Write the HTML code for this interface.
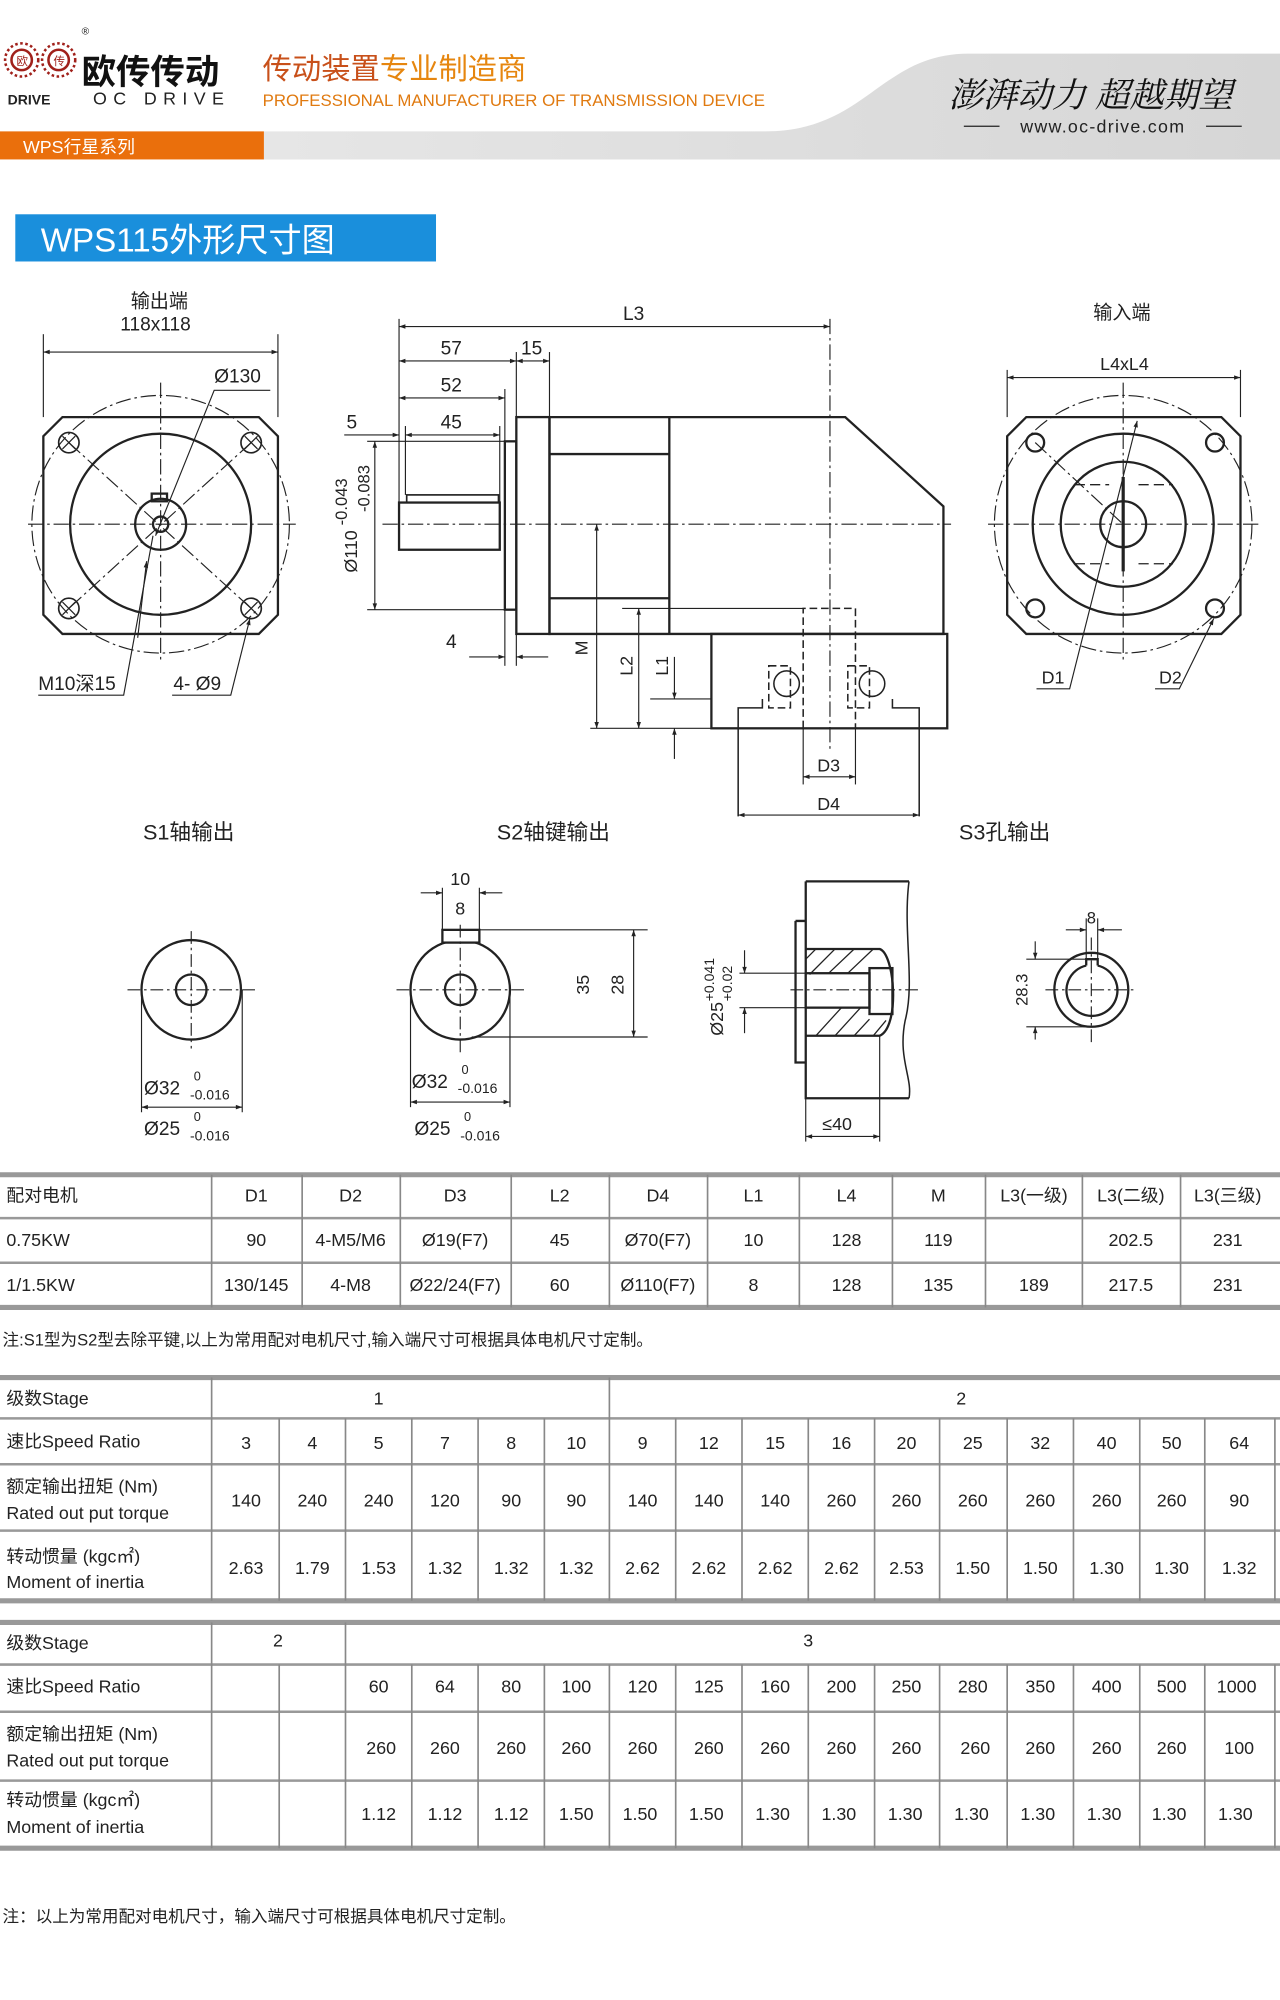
<!DOCTYPE html>
<html><head><meta charset="utf-8"><style>
html,body{margin:0;padding:0;background:#fff;}
svg{display:block;}
text{font-family:"Liberation Sans","Noto Sans CJK SC",sans-serif;fill:#222;}
.n{font-family:"Liberation Sans Narrow","Liberation Sans","Noto Sans CJK SC",sans-serif;}
</style></head><body>
<svg width="1280" height="2000" viewBox="0 0 1004 1568" preserveAspectRatio="none" xmlns="http://www.w3.org/2000/svg">
<defs>
<marker id="a" viewBox="0 0 10 10" refX="10" refY="5" markerWidth="7" markerHeight="5" orient="auto-start-reverse" markerUnits="userSpaceOnUse"><path d="M0,1.5 L10,5 L0,8.5z" fill="#222"/></marker>
<linearGradient id="g" x1="0" y1="0" x2="1" y2="0"><stop offset="0" stop-color="#e6e6e6"/><stop offset="1" stop-color="#d6d6d6"/></linearGradient>
</defs>
<!-- header -->
<path d="M207,103 L600,103 C680,103 690,42 760,42 L1004,42 L1004,125 L207,125z" fill="url(#g)"/>
<rect x="0" y="103" width="207" height="22" fill="#ea6f0c"/>
<text x="18" y="120" font-size="14" fill="#fff" style="fill:#fff">WPS行星系列</text>
<g fill="none" stroke="#a0201a" stroke-width="2">
<circle cx="17" cy="47" r="13" stroke-dasharray="2 2"/><circle cx="17" cy="47" r="8"/>
<circle cx="46" cy="47" r="13" stroke-dasharray="2 2"/><circle cx="46" cy="47" r="8"/>
</g>
<text x="13" y="51" font-size="9" fill="#a0201a" style="fill:#a0201a">欧</text>
<text x="42" y="51" font-size="9" fill="#a0201a" style="fill:#a0201a">传</text>
<text x="64" y="27" font-size="8">®</text>
<text x="64" y="66" font-size="27" font-weight="bold" style="fill:#111">欧传传动</text>
<text x="6" y="82" font-size="11" font-weight="bold">DRIVE</text>
<text x="73" y="82" font-size="14" letter-spacing="5">OC DRIVE</text>
<text x="206" y="62" font-size="23" style="fill:#c8501a">传动装置<tspan style="fill:#e6860f">专业制造商</tspan></text>
<text x="206" y="83" font-size="13" textLength="394" lengthAdjust="spacingAndGlyphs" style="fill:#e07a10">PROFESSIONAL MANUFACTURER OF TRANSMISSION DEVICE</text>
<text x="744" y="84" font-size="27" font-style="italic" style="fill:#111;font-family:'Noto Serif CJK SC',serif">澎湃动力 超越期望</text>
<line x1="756" y1="99" x2="784" y2="99" stroke="#222"/><line x1="946" y1="99" x2="974" y2="99" stroke="#222"/>
<text x="865" y="104" font-size="14" text-anchor="middle" letter-spacing="1">www.oc-drive.com</text>
<!-- title -->
<rect x="12" y="168" width="330" height="37" fill="#1a8fdc"/>
<text x="32" y="197" font-size="26" style="fill:#fff">WPS115外形尺寸图</text>

<g fill="none" stroke="#222" stroke-width="1.8">
<!-- left flange view -->
<path d="M49,327 L203,327 L218,342 L218,482 L203,497 L49,497 L34,482 L34,342z"/>
<circle cx="126" cy="411" r="71"/>
<circle cx="126" cy="411" r="20"/>
<circle cx="126" cy="411" r="6"/>
<rect x="119" y="387" width="12" height="6"/>
<g stroke-width="1.3"><circle cx="54" cy="347" r="8"/><circle cx="197" cy="347" r="8"/><circle cx="54" cy="477" r="8"/><circle cx="197" cy="477" r="8"/></g>
<g stroke-width="1"><path d="M49,342 l10,10 m-10,0 l10,-10 M192,342 l10,10 m-10,0 l10,-10 M49,472 l10,10 m-10,0 l10,-10 M192,472 l10,10 m-10,0 l10,-10"/></g>
</g>
<g fill="none" stroke="#222" stroke-width="0.9" stroke-dasharray="12 3 2 3">
<circle cx="126" cy="411" r="101"/>
<line x1="22" y1="411" x2="232" y2="411"/><line x1="126" y1="300" x2="126" y2="520"/>
<line x1="54" y1="347" x2="197" y2="477"/><line x1="197" y1="347" x2="54" y2="477"/>
</g>
<g stroke="#222" stroke-width="0.9" fill="none">
<line x1="34" y1="262" x2="34" y2="327"/><line x1="218" y1="262" x2="218" y2="327"/>
<line x1="34" y1="276" x2="218" y2="276" marker-start="url(#a)" marker-end="url(#a)"/>
<polyline points="212,306 168,306 122,420" marker-end="url(#a)"/>
<polyline points="30,545 97,545 120,420"/><line x1="115" y1="440" x2="108" y2="500" marker-start="url(#a)"/>
<polyline points="135,545 181,545 196,485" marker-end="url(#a)"/>
</g>
<text x="125" y="241" font-size="15" text-anchor="middle">输出端</text>
<text x="122" y="259" font-size="15" text-anchor="middle">118x118</text>
<text x="168" y="300" font-size="15">Ø130</text>
<text x="30" y="541" font-size="15">M10深15</text>
<text x="136" y="541" font-size="15">4- Ø9</text>

<!-- center side view -->
<g fill="none" stroke="#222" stroke-width="1.8">
<rect x="313" y="394" width="79" height="37"/>
<rect x="319" y="388" width="72" height="6" stroke-width="1.3"/>
<rect x="396" y="346" width="9" height="132"/>
<rect x="405" y="327" width="26" height="170"/>
<path d="M431,327 L663,327 L740,397 L740,497 L431,497z"/>
<line x1="431" y1="356" x2="525" y2="356"/><line x1="431" y1="469" x2="525" y2="469"/>
<line x1="525" y1="327" x2="525" y2="497"/>
<rect x="558" y="497" width="185" height="74"/>
</g>
<g fill="none" stroke="#222" stroke-width="1.2" stroke-dasharray="6 3">
<path d="M630,571 L630,477 L671,477 L671,571"/>
<path d="M603,522 L620,522 L620,555 L603,555z M665,522 L682,522 L682,555 L665,555z"/>
</g>
<g fill="none" stroke="#222" stroke-width="1.2">
<circle cx="617" cy="536" r="10"/><circle cx="684" cy="536" r="10"/>
<path d="M579,640 L579,555 L598,555 L598,548 M721,640 L721,555 L700,555 L700,548"/>
</g>
<g fill="none" stroke="#222" stroke-width="0.9" stroke-dasharray="12 3 2 3">
<line x1="300" y1="411" x2="746" y2="411"/><line x1="651" y1="250" x2="651" y2="590"/>
</g>
<g stroke="#222" stroke-width="0.9" fill="none">
<line x1="313" y1="250" x2="313" y2="394"/>
<line x1="313" y1="256" x2="651" y2="256" marker-start="url(#a)" marker-end="url(#a)"/>
<line x1="405" y1="276" x2="405" y2="327"/><line x1="431" y1="276" x2="431" y2="327"/>
<line x1="396" y1="305" x2="396" y2="346"/><line x1="318" y1="334" x2="318" y2="388"/>
<line x1="392" y1="334" x2="392" y2="394"/>
<line x1="313" y1="283" x2="405" y2="283" marker-start="url(#a)" marker-end="url(#a)"/>
<line x1="405" y1="283" x2="431" y2="283" marker-start="url(#a)" marker-end="url(#a)"/>
<line x1="313" y1="312" x2="396" y2="312" marker-start="url(#a)" marker-end="url(#a)"/>
<line x1="318" y1="341" x2="392" y2="341" marker-start="url(#a)" marker-end="url(#a)"/>
<line x1="270" y1="341" x2="313" y2="341" marker-end="url(#a)"/>
<line x1="288" y1="346" x2="396" y2="346"/><line x1="288" y1="478" x2="396" y2="478"/>
<line x1="294" y1="346" x2="294" y2="478" marker-start="url(#a)" marker-end="url(#a)"/>
<line x1="396" y1="478" x2="396" y2="522"/><line x1="405" y1="497" x2="405" y2="522"/>
<line x1="368" y1="515" x2="396" y2="515" marker-end="url(#a)"/><line x1="430" y1="515" x2="405" y2="515" marker-end="url(#a)"/>
<line x1="468" y1="411" x2="468" y2="571" marker-start="url(#a)" marker-end="url(#a)"/>
<line x1="488" y1="477" x2="630" y2="477"/>
<line x1="501" y1="477" x2="501" y2="571" marker-start="url(#a)" marker-end="url(#a)"/>
<line x1="463" y1="571" x2="558" y2="571"/><line x1="510" y1="548" x2="558" y2="548"/>
<line x1="529" y1="515" x2="529" y2="548" marker-end="url(#a)"/><line x1="529" y1="595" x2="529" y2="571" marker-end="url(#a)"/>
<line x1="630" y1="571" x2="630" y2="615"/><line x1="671" y1="571" x2="671" y2="615"/>
<line x1="630" y1="609" x2="671" y2="609" marker-start="url(#a)" marker-end="url(#a)"/>
<line x1="579" y1="639" x2="721" y2="639" marker-start="url(#a)" marker-end="url(#a)"/>
</g>
<text x="497" y="251" font-size="15" text-anchor="middle">L3</text>
<text x="354" y="278" font-size="15" text-anchor="middle">57</text>
<text x="417" y="278" font-size="15" text-anchor="middle">15</text>
<text x="354" y="307" font-size="15" text-anchor="middle">52</text>
<text x="354" y="336" font-size="15" text-anchor="middle">45</text>
<text x="276" y="336" font-size="15" text-anchor="middle">5</text>
<text x="354" y="508" font-size="15" text-anchor="middle">4</text>
<text transform="translate(280,412) rotate(-90)" font-size="14" text-anchor="middle">Ø110 <tspan font-size="13" dy="-8">-0.043</tspan></text>
<text transform="translate(290,383) rotate(-90)" font-size="13" text-anchor="middle">-0.083</text>
<text transform="translate(461,508) rotate(-90)" font-size="14" text-anchor="middle">M</text>
<text transform="translate(496,522) rotate(-90)" font-size="14" text-anchor="middle">L2</text>
<text transform="translate(524,522) rotate(-90)" font-size="14" text-anchor="middle">L1</text>
<text x="650" y="605" font-size="14" text-anchor="middle">D3</text>
<text x="650" y="635" font-size="14" text-anchor="middle">D4</text>

<!-- right view -->
<g fill="none" stroke="#222" stroke-width="1.8">
<path d="M805,327 L958,327 L973,342 L973,482 L958,497 L805,497 L790,482 L790,342z"/>
<circle cx="881" cy="411" r="71"/>
<circle cx="881" cy="411" r="49"/>
<circle cx="881" cy="411" r="18"/>
<circle cx="812" cy="347" r="7"/><circle cx="953" cy="347" r="7"/><circle cx="812" cy="477" r="7"/><circle cx="953" cy="477" r="7"/>
</g>
<g fill="none" stroke="#222" stroke-width="1" stroke-dasharray="8 4">
<path d="M843,380 L870,380 M893,380 L920,380 M843,442 L870,442 M893,442 L920,442"/>
</g>
<line x1="881" y1="374" x2="881" y2="448" stroke="#222" stroke-width="2.5"/>
<g fill="none" stroke="#222" stroke-width="0.9" stroke-dasharray="12 3 2 3">
<circle cx="881" cy="411" r="101"/>
<line x1="775" y1="411" x2="990" y2="411"/><line x1="881" y1="300" x2="881" y2="520"/>
<line x1="812" y1="347" x2="881" y2="411"/>
</g>
<g stroke="#222" stroke-width="0.9" fill="none">
<line x1="790" y1="290" x2="790" y2="327"/><line x1="973" y1="290" x2="973" y2="327"/>
<line x1="790" y1="296" x2="973" y2="296" marker-start="url(#a)" marker-end="url(#a)"/>
<polyline points="813,540 839,540 892,330" marker-end="url(#a)"/>
<polyline points="906,540 925,540 952,485" marker-end="url(#a)"/>
</g>
<text x="880" y="250" font-size="15" text-anchor="middle">输入端</text>
<text x="882" y="290" font-size="14" text-anchor="middle">L4xL4</text>
<text x="826" y="536" font-size="14" text-anchor="middle">D1</text>
<text x="918" y="536" font-size="14" text-anchor="middle">D2</text>

<text x="148" y="658" font-size="17" text-anchor="middle">S1轴输出</text>
<text x="434" y="658" font-size="17" text-anchor="middle">S2轴键输出</text>
<text x="788" y="658" font-size="17" text-anchor="middle">S3孔输出</text>

<!-- small drawings -->
<g fill="none" stroke="#222" stroke-width="1.8">
<circle cx="150" cy="776" r="39"/><circle cx="150" cy="776" r="12"/>
<circle cx="361" cy="776" r="39"/><circle cx="361" cy="776" r="12"/>
<rect x="347" y="729" width="29" height="10" fill="#fff"/>
<path d="M632,691 L713,691 M632,691 L632,861 L713,861 M624,722 L632,722 M624,722 L624,833 L632,833"/>
<path d="M713,691 C708,730 718,770 710,800 C704,830 716,845 713,861" stroke-width="1.2"/>
<path d="M632,744 L690,744 C702,748 706,805 690,812 L632,812"/>
<rect x="632" y="763" width="50" height="27" fill="#fff"/>
<rect x="682" y="759" width="18" height="36"/>
<circle cx="856" cy="776" r="29"/>
<path d="M852,757 L852,752 L861,752 L861,757"/>
<path d="M852,757 A20,20 0 1,0 861,757"/>
</g>
<g stroke="#222" stroke-width="1">
<path d="M640,744 l-8,8 M655,744 l-20,20 M670,744 l-20,19 M685,744 l-20,19 M640,812 l20,-22 M655,812 l20,-22 M670,812 l12,-13 M685,812 l10,-12"/>
</g>
<g fill="none" stroke="#222" stroke-width="0.9" stroke-dasharray="10 3 2 3">
<line x1="100" y1="776" x2="200" y2="776"/><line x1="150" y1="730" x2="150" y2="822"/>
<line x1="311" y1="776" x2="411" y2="776"/><line x1="361" y1="725" x2="361" y2="826"/>
<line x1="620" y1="776" x2="720" y2="776"/>
<line x1="820" y1="776" x2="892" y2="776"/><line x1="856" y1="735" x2="856" y2="820"/>
</g>
<g stroke="#222" stroke-width="0.9" fill="none">
<line x1="111" y1="776" x2="111" y2="872"/><line x1="190" y1="776" x2="190" y2="872"/>
<line x1="111" y1="868" x2="190" y2="868" marker-start="url(#a)" marker-end="url(#a)"/>
<line x1="322" y1="776" x2="322" y2="868"/><line x1="400" y1="776" x2="400" y2="868"/>
<line x1="322" y1="864" x2="400" y2="864" marker-start="url(#a)" marker-end="url(#a)"/>
<line x1="347" y1="696" x2="347" y2="729"/><line x1="376" y1="696" x2="376" y2="729"/>
<line x1="330" y1="700" x2="347" y2="700" marker-end="url(#a)"/><line x1="394" y1="700" x2="376" y2="700" marker-end="url(#a)"/>
<line x1="376" y1="729" x2="508" y2="729"/><line x1="370" y1="813" x2="508" y2="813"/>
<line x1="497" y1="729" x2="497" y2="813" marker-start="url(#a)" marker-end="url(#a)"/>
<line x1="580" y1="763" x2="632" y2="763"/><line x1="580" y1="790" x2="632" y2="790"/>
<line x1="584" y1="745" x2="584" y2="763" marker-end="url(#a)"/><line x1="584" y1="810" x2="584" y2="790" marker-end="url(#a)"/>
<line x1="632" y1="861" x2="632" y2="895"/><line x1="690" y1="812" x2="690" y2="895"/>
<line x1="632" y1="891" x2="690" y2="891" marker-start="url(#a)" marker-end="url(#a)"/>
<line x1="852" y1="720" x2="852" y2="752"/><line x1="861" y1="720" x2="861" y2="752"/>
<line x1="836" y1="729" x2="852" y2="729" marker-end="url(#a)"/><line x1="880" y1="729" x2="861" y2="729" marker-end="url(#a)"/>
<line x1="805" y1="752" x2="852" y2="752"/><line x1="805" y1="805" x2="856" y2="805"/>
<line x1="812" y1="738" x2="812" y2="752" marker-end="url(#a)"/><line x1="812" y1="815" x2="812" y2="805" marker-end="url(#a)"/>
</g>
<text x="113" y="858" font-size="15">Ø32</text><text x="152" y="847" font-size="10">0</text><text x="149" y="862" font-size="11">-0.016</text>
<text x="113" y="890" font-size="15">Ø25</text><text x="152" y="879" font-size="10">0</text><text x="149" y="894" font-size="11">-0.016</text>
<text x="323" y="853" font-size="15">Ø32</text><text x="362" y="842" font-size="10">0</text><text x="359" y="857" font-size="11">-0.016</text>
<text x="325" y="890" font-size="15">Ø25</text><text x="364" y="879" font-size="10">0</text><text x="361" y="894" font-size="11">-0.016</text>
<text x="361" y="694" font-size="14" text-anchor="middle">10</text>
<text x="361" y="717" font-size="14" text-anchor="middle">8</text>
<text transform="translate(462,772) rotate(-90)" font-size="14" text-anchor="middle">35</text>
<text transform="translate(489,772) rotate(-90)" font-size="14" text-anchor="middle">28</text>
<text transform="translate(567,812) rotate(-90)" font-size="14">Ø25</text>
<text transform="translate(560,785) rotate(-90)" font-size="11">+0.041</text>
<text transform="translate(574,785) rotate(-90)" font-size="11">+0.02</text>
<text x="645" y="886" font-size="14">≤40</text>
<text x="856" y="724" font-size="13" text-anchor="middle">8</text>
<text transform="translate(806,776) rotate(-90)" font-size="13" text-anchor="middle">28.3</text>

<!-- table 1 -->
<g stroke="#999">
<line x1="0" y1="921" x2="1004" y2="921" stroke-width="4"/>
<line x1="0" y1="955" x2="1004" y2="955" stroke-width="2"/>
<line x1="0" y1="990" x2="1004" y2="990" stroke-width="2"/>
<line x1="0" y1="1025" x2="1004" y2="1025" stroke-width="4"/>
<g stroke-width="1.3" stroke="#888">
<path d="M166,921V1025M237,921V1025M314,921V1025M401,921V1025M478,921V1025M555,921V1025M627,921V1025M700,921V1025M773,921V1025M849,921V1025M926,921V1025"/>
</g>
</g>
<g class="n" font-size="14" text-anchor="middle">
<text x="5" y="942" text-anchor="start" class="n">配对电机</text>
<text x="201" y="942" class="n">D1</text><text x="275" y="942" class="n">D2</text><text x="357" y="942" class="n">D3</text><text x="439" y="942" class="n">L2</text><text x="516" y="942" class="n">D4</text><text x="591" y="942" class="n">L1</text><text x="664" y="942" class="n">L4</text><text x="736" y="942" class="n">M</text><text x="811" y="942" class="n">L3(一级)</text><text x="887" y="942" class="n">L3(二级)</text><text x="963" y="942" class="n">L3(三级)</text>
<text x="5" y="977" text-anchor="start" class="n">0.75KW</text>
<text x="201" y="977" class="n">90</text><text x="275" y="977" class="n">4-M5/M6</text><text x="357" y="977" class="n">Ø19(F7)</text><text x="439" y="977" class="n">45</text><text x="516" y="977" class="n">Ø70(F7)</text><text x="591" y="977" class="n">10</text><text x="664" y="977" class="n">128</text><text x="736" y="977" class="n">119</text><text x="887" y="977" class="n">202.5</text><text x="963" y="977" class="n">231</text>
<text x="5" y="1012" text-anchor="start" class="n">1/1.5KW</text>
<text x="201" y="1012" class="n">130/145</text><text x="275" y="1012" class="n">4-M8</text><text x="357" y="1012" class="n">Ø22/24(F7)</text><text x="439" y="1012" class="n">60</text><text x="516" y="1012" class="n">Ø110(F7)</text><text x="591" y="1012" class="n">8</text><text x="664" y="1012" class="n">128</text><text x="736" y="1012" class="n">135</text><text x="811" y="1012" class="n">189</text><text x="887" y="1012" class="n">217.5</text><text x="963" y="1012" class="n">231</text>
</g>
<text x="2" y="1055" font-size="13" class="n">注:S1型为S2型去除平键,以上为常用配对电机尺寸,输入端尺寸可根据具体电机尺寸定制。</text>

<!-- table 2 -->
<g stroke="#999">
<line x1="0" y1="1080" x2="1004" y2="1080" stroke-width="4"/>
<line x1="0" y1="1112" x2="1004" y2="1112" stroke-width="2"/>
<line x1="0" y1="1148" x2="1004" y2="1148" stroke-width="2"/>
<line x1="0" y1="1200" x2="1004" y2="1200" stroke-width="2"/>
<line x1="0" y1="1255" x2="1004" y2="1255" stroke-width="4"/>
<g stroke-width="1.3" stroke="#888">
<path d="M166,1080V1255M478,1080V1255M219,1112V1255M271,1112V1255M323,1112V1255M375,1112V1255M427,1112V1255M530,1112V1255M582,1112V1255M634,1112V1255M686,1112V1255M737,1112V1255M790,1112V1255M842,1112V1255M894,1112V1255M945,1112V1255M1000,1112V1255"/>
</g>
</g>
<g font-size="14" text-anchor="middle">
<text x="5" y="1101" text-anchor="start" class="n">级数Stage</text>
<text x="297" y="1101" class="n">1</text><text x="754" y="1101" class="n">2</text>
<text x="5" y="1135" text-anchor="start" class="n">速比Speed Ratio</text>
<text x="5" y="1170" text-anchor="start" class="n">额定输出扭矩 (Nm)</text>
<text x="5" y="1191" text-anchor="start" class="n">Rated out put torque</text>
<text x="5" y="1225" text-anchor="start" class="n">转动惯量 (kgc㎡)</text>
<text x="5" y="1245" text-anchor="start" class="n">Moment of inertia</text>
<text y="1136" class="n"><tspan x="193">3</tspan><tspan x="245">4</tspan><tspan x="297">5</tspan><tspan x="349">7</tspan><tspan x="401">8</tspan><tspan x="452">10</tspan><tspan x="504">9</tspan><tspan x="556">12</tspan><tspan x="608">15</tspan><tspan x="660">16</tspan><tspan x="711">20</tspan><tspan x="763">25</tspan><tspan x="816">32</tspan><tspan x="868">40</tspan><tspan x="919">50</tspan><tspan x="972">64</tspan></text>
<text y="1181" class="n"><tspan x="193">140</tspan><tspan x="245">240</tspan><tspan x="297">240</tspan><tspan x="349">120</tspan><tspan x="401">90</tspan><tspan x="452">90</tspan><tspan x="504">140</tspan><tspan x="556">140</tspan><tspan x="608">140</tspan><tspan x="660">260</tspan><tspan x="711">260</tspan><tspan x="763">260</tspan><tspan x="816">260</tspan><tspan x="868">260</tspan><tspan x="919">260</tspan><tspan x="972">90</tspan></text>
<text y="1234" class="n"><tspan x="193">2.63</tspan><tspan x="245">1.79</tspan><tspan x="297">1.53</tspan><tspan x="349">1.32</tspan><tspan x="401">1.32</tspan><tspan x="452">1.32</tspan><tspan x="504">2.62</tspan><tspan x="556">2.62</tspan><tspan x="608">2.62</tspan><tspan x="660">2.62</tspan><tspan x="711">2.53</tspan><tspan x="763">1.50</tspan><tspan x="816">1.50</tspan><tspan x="868">1.30</tspan><tspan x="919">1.30</tspan><tspan x="972">1.32</tspan></text>
</g>

<!-- table 3 -->
<g stroke="#999">
<line x1="0" y1="1272" x2="1004" y2="1272" stroke-width="4"/>
<line x1="0" y1="1305" x2="1004" y2="1305" stroke-width="2"/>
<line x1="0" y1="1342" x2="1004" y2="1342" stroke-width="2"/>
<line x1="0" y1="1396" x2="1004" y2="1396" stroke-width="2"/>
<line x1="0" y1="1449" x2="1004" y2="1449" stroke-width="4"/>
<g stroke-width="1.3" stroke="#888">
<path d="M166,1272V1449M271,1272V1449M219,1305V1449M323,1305V1449M375,1305V1449M427,1305V1449M478,1305V1449M530,1305V1449M582,1305V1449M634,1305V1449M686,1305V1449M737,1305V1449M790,1305V1449M842,1305V1449M894,1305V1449M945,1305V1449M1000,1305V1449"/>
</g>
</g>
<g font-size="14" text-anchor="middle">
<text x="5" y="1293" text-anchor="start" class="n">级数Stage</text>
<text x="218" y="1291" class="n">2</text><text x="634" y="1291" class="n">3</text>
<text x="5" y="1327" text-anchor="start" class="n">速比Speed Ratio</text>
<text x="5" y="1364" text-anchor="start" class="n">额定输出扭矩 (Nm)</text>
<text x="5" y="1385" text-anchor="start" class="n">Rated out put torque</text>
<text x="5" y="1416" text-anchor="start" class="n">转动惯量 (kgc㎡)</text>
<text x="5" y="1437" text-anchor="start" class="n">Moment of inertia</text>
<text y="1327" class="n"><tspan x="297">60</tspan><tspan x="349">64</tspan><tspan x="401">80</tspan><tspan x="452">100</tspan><tspan x="504">120</tspan><tspan x="556">125</tspan><tspan x="608">160</tspan><tspan x="660">200</tspan><tspan x="711">250</tspan><tspan x="763">280</tspan><tspan x="816">350</tspan><tspan x="868">400</tspan><tspan x="919">500</tspan><tspan x="970">1000</tspan></text>
<text y="1375" class="n"><tspan x="299">260</tspan><tspan x="349">260</tspan><tspan x="401">260</tspan><tspan x="452">260</tspan><tspan x="504">260</tspan><tspan x="556">260</tspan><tspan x="608">260</tspan><tspan x="660">260</tspan><tspan x="711">260</tspan><tspan x="765">260</tspan><tspan x="816">260</tspan><tspan x="868">260</tspan><tspan x="919">260</tspan><tspan x="972">100</tspan></text>
<text y="1427" class="n"><tspan x="297">1.12</tspan><tspan x="349">1.12</tspan><tspan x="401">1.12</tspan><tspan x="452">1.50</tspan><tspan x="502">1.50</tspan><tspan x="554">1.50</tspan><tspan x="606">1.30</tspan><tspan x="658">1.30</tspan><tspan x="710">1.30</tspan><tspan x="762">1.30</tspan><tspan x="814">1.30</tspan><tspan x="866">1.30</tspan><tspan x="917">1.30</tspan><tspan x="969">1.30</tspan></text>
</g>
<text x="2" y="1507" font-size="13" class="n">注：以上为常用配对电机尺寸，输入端尺寸可根据具体电机尺寸定制。</text>
</svg>
</body></html>
